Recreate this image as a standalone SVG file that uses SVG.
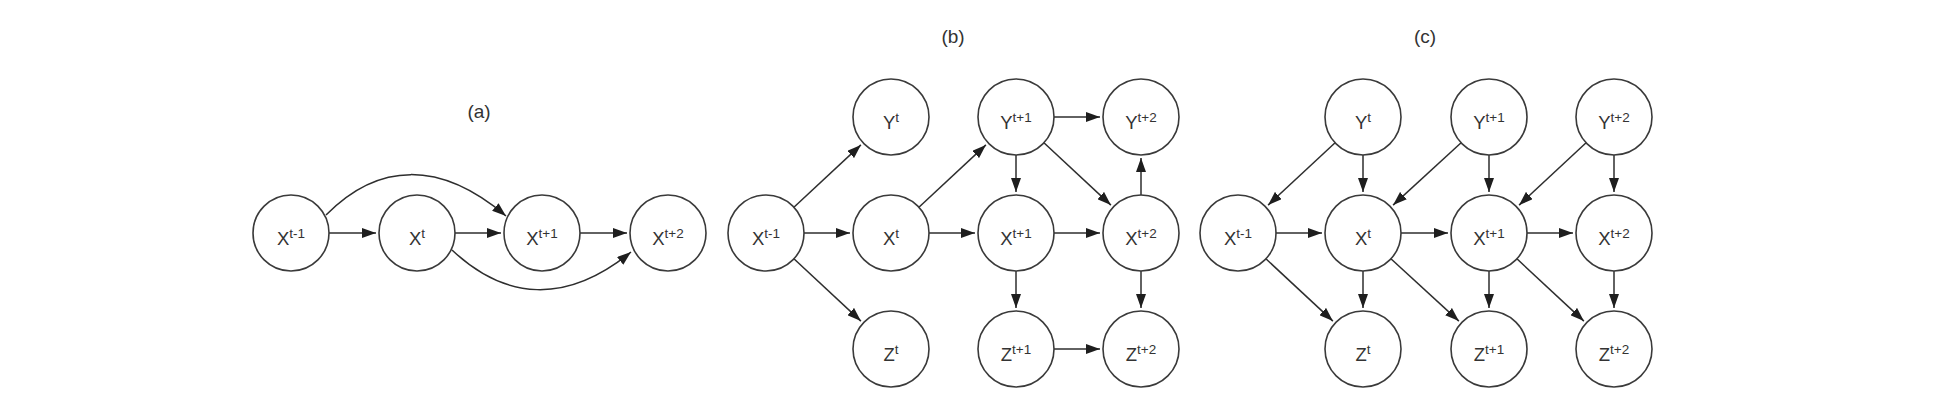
<svg xmlns="http://www.w3.org/2000/svg" width="1960" height="418" viewBox="0 0 1960 418">
<style>
.n circle{fill:#fff;stroke:#3a3a3a;stroke-width:1.6}
.n text{font-family:"Liberation Sans",Arial,sans-serif;font-size:18.5px;fill:#333;text-anchor:middle}
.n tspan.s{font-size:13.5px}
.e line,.e path{stroke:#2e2e2e;stroke-width:1.5;fill:none;marker-end:url(#ah)}
.lbl{font-family:"Liberation Sans",Arial,sans-serif;font-size:19px;fill:#333;text-anchor:middle}
</style>
<defs>
<marker id="ah" markerUnits="userSpaceOnUse" markerWidth="14" markerHeight="10" refX="14" refY="5" orient="auto">
<path d="M0,0 L14,5 L0,10 z" fill="#1e1e1e"/>
</marker>
</defs>
<rect width="1960" height="418" fill="#fff"/>
<text class="lbl" x="479" y="118">(a)</text>
<text class="lbl" x="953" y="43">(b)</text>
<text class="lbl" x="1425" y="43">(c)</text>

<g class="e" id="connectors">
<!-- (a) -->
<line x1="329" y1="233" x2="376" y2="233"/>
<line x1="455" y1="233" x2="501" y2="233"/>
<line x1="580" y1="233" x2="627" y2="233"/>
<path d="M326,215 C378,162 440,160 506,216"/>
<path d="M452,250 C505,300 566,305 631,252"/>
<!-- (b) -->
<line x1="793.9" y1="207.2" x2="860.9" y2="144.9"/>
<line x1="804" y1="233" x2="850" y2="233"/>
<line x1="793.9" y1="258.8" x2="860.9" y2="321.1"/>
<line x1="918.9" y1="207.2" x2="985.9" y2="144.9"/>
<line x1="929" y1="233" x2="975" y2="233"/>
<line x1="1054" y1="117" x2="1100" y2="117"/>
<line x1="1016" y1="155" x2="1016" y2="192"/>
<line x1="1043.9" y1="142.8" x2="1110.9" y2="205.1"/>
<line x1="1054" y1="233" x2="1100" y2="233"/>
<line x1="1016" y1="271" x2="1016" y2="308"/>
<line x1="1141" y1="195" x2="1141" y2="158"/>
<line x1="1141" y1="271" x2="1141" y2="308"/>
<line x1="1054" y1="349" x2="1100" y2="349"/>
<!-- (c) -->
<line x1="1335.1" y1="142.8" x2="1268.1" y2="205.1"/>
<line x1="1363" y1="155" x2="1363" y2="192"/>
<line x1="1461.1" y1="142.8" x2="1393.1" y2="205.1"/>
<line x1="1489" y1="155" x2="1489" y2="192"/>
<line x1="1586.1" y1="142.8" x2="1519.1" y2="205.1"/>
<line x1="1614" y1="155" x2="1614" y2="192"/>
<line x1="1276" y1="233" x2="1322" y2="233"/>
<line x1="1401" y1="233" x2="1448" y2="233"/>
<line x1="1527" y1="233" x2="1573" y2="233"/>
<line x1="1265.9" y1="258.8" x2="1332.9" y2="321.1"/>
<line x1="1363" y1="271" x2="1363" y2="308"/>
<line x1="1390.9" y1="258.8" x2="1458.9" y2="321.1"/>
<line x1="1489" y1="271" x2="1489" y2="308"/>
<line x1="1516.9" y1="258.8" x2="1583.9" y2="321.1"/>
<line x1="1614" y1="271" x2="1614" y2="308"/>
</g>

<!-- (a) nodes -->
<g class="n" id="a_x_tm1"><circle cx="291" cy="233" r="38"/><text x="291" y="245">X<tspan class="s" dy="-7">t-1</tspan></text></g>
<g class="n" id="a_x_t"><circle cx="417" cy="233" r="38"/><text x="417" y="245">X<tspan class="s" dy="-7">t</tspan></text></g>
<g class="n" id="a_x_tp1"><circle cx="542" cy="233" r="38"/><text x="542" y="245">X<tspan class="s" dy="-7">t+1</tspan></text></g>
<g class="n" id="a_x_tp2"><circle cx="668" cy="233" r="38"/><text x="668" y="245">X<tspan class="s" dy="-7">t+2</tspan></text></g>

<!-- (b) nodes -->
<g class="n" id="b_x_tm1"><circle cx="766" cy="233" r="38"/><text x="766" y="245">X<tspan class="s" dy="-7">t-1</tspan></text></g>
<g class="n" id="b_y_t"><circle cx="891" cy="117" r="38"/><text x="891" y="129">Y<tspan class="s" dy="-7">t</tspan></text></g>
<g class="n" id="b_x_t"><circle cx="891" cy="233" r="38"/><text x="891" y="245">X<tspan class="s" dy="-7">t</tspan></text></g>
<g class="n" id="b_z_t"><circle cx="891" cy="349" r="38"/><text x="891" y="361">Z<tspan class="s" dy="-7">t</tspan></text></g>
<g class="n" id="b_y_tp1"><circle cx="1016" cy="117" r="38"/><text x="1016" y="129">Y<tspan class="s" dy="-7">t+1</tspan></text></g>
<g class="n" id="b_x_tp1"><circle cx="1016" cy="233" r="38"/><text x="1016" y="245">X<tspan class="s" dy="-7">t+1</tspan></text></g>
<g class="n" id="b_z_tp1"><circle cx="1016" cy="349" r="38"/><text x="1016" y="361">Z<tspan class="s" dy="-7">t+1</tspan></text></g>
<g class="n" id="b_y_tp2"><circle cx="1141" cy="117" r="38"/><text x="1141" y="129">Y<tspan class="s" dy="-7">t+2</tspan></text></g>
<g class="n" id="b_x_tp2"><circle cx="1141" cy="233" r="38"/><text x="1141" y="245">X<tspan class="s" dy="-7">t+2</tspan></text></g>
<g class="n" id="b_z_tp2"><circle cx="1141" cy="349" r="38"/><text x="1141" y="361">Z<tspan class="s" dy="-7">t+2</tspan></text></g>

<!-- (c) nodes -->
<g class="n" id="c_x_tm1"><circle cx="1238" cy="233" r="38"/><text x="1238" y="245">X<tspan class="s" dy="-7">t-1</tspan></text></g>
<g class="n" id="c_y_t"><circle cx="1363" cy="117" r="38"/><text x="1363" y="129">Y<tspan class="s" dy="-7">t</tspan></text></g>
<g class="n" id="c_x_t"><circle cx="1363" cy="233" r="38"/><text x="1363" y="245">X<tspan class="s" dy="-7">t</tspan></text></g>
<g class="n" id="c_z_t"><circle cx="1363" cy="349" r="38"/><text x="1363" y="361">Z<tspan class="s" dy="-7">t</tspan></text></g>
<g class="n" id="c_y_tp1"><circle cx="1489" cy="117" r="38"/><text x="1489" y="129">Y<tspan class="s" dy="-7">t+1</tspan></text></g>
<g class="n" id="c_x_tp1"><circle cx="1489" cy="233" r="38"/><text x="1489" y="245">X<tspan class="s" dy="-7">t+1</tspan></text></g>
<g class="n" id="c_z_tp1"><circle cx="1489" cy="349" r="38"/><text x="1489" y="361">Z<tspan class="s" dy="-7">t+1</tspan></text></g>
<g class="n" id="c_y_tp2"><circle cx="1614" cy="117" r="38"/><text x="1614" y="129">Y<tspan class="s" dy="-7">t+2</tspan></text></g>
<g class="n" id="c_x_tp2"><circle cx="1614" cy="233" r="38"/><text x="1614" y="245">X<tspan class="s" dy="-7">t+2</tspan></text></g>
<g class="n" id="c_z_tp2"><circle cx="1614" cy="349" r="38"/><text x="1614" y="361">Z<tspan class="s" dy="-7">t+2</tspan></text></g>
</svg>
